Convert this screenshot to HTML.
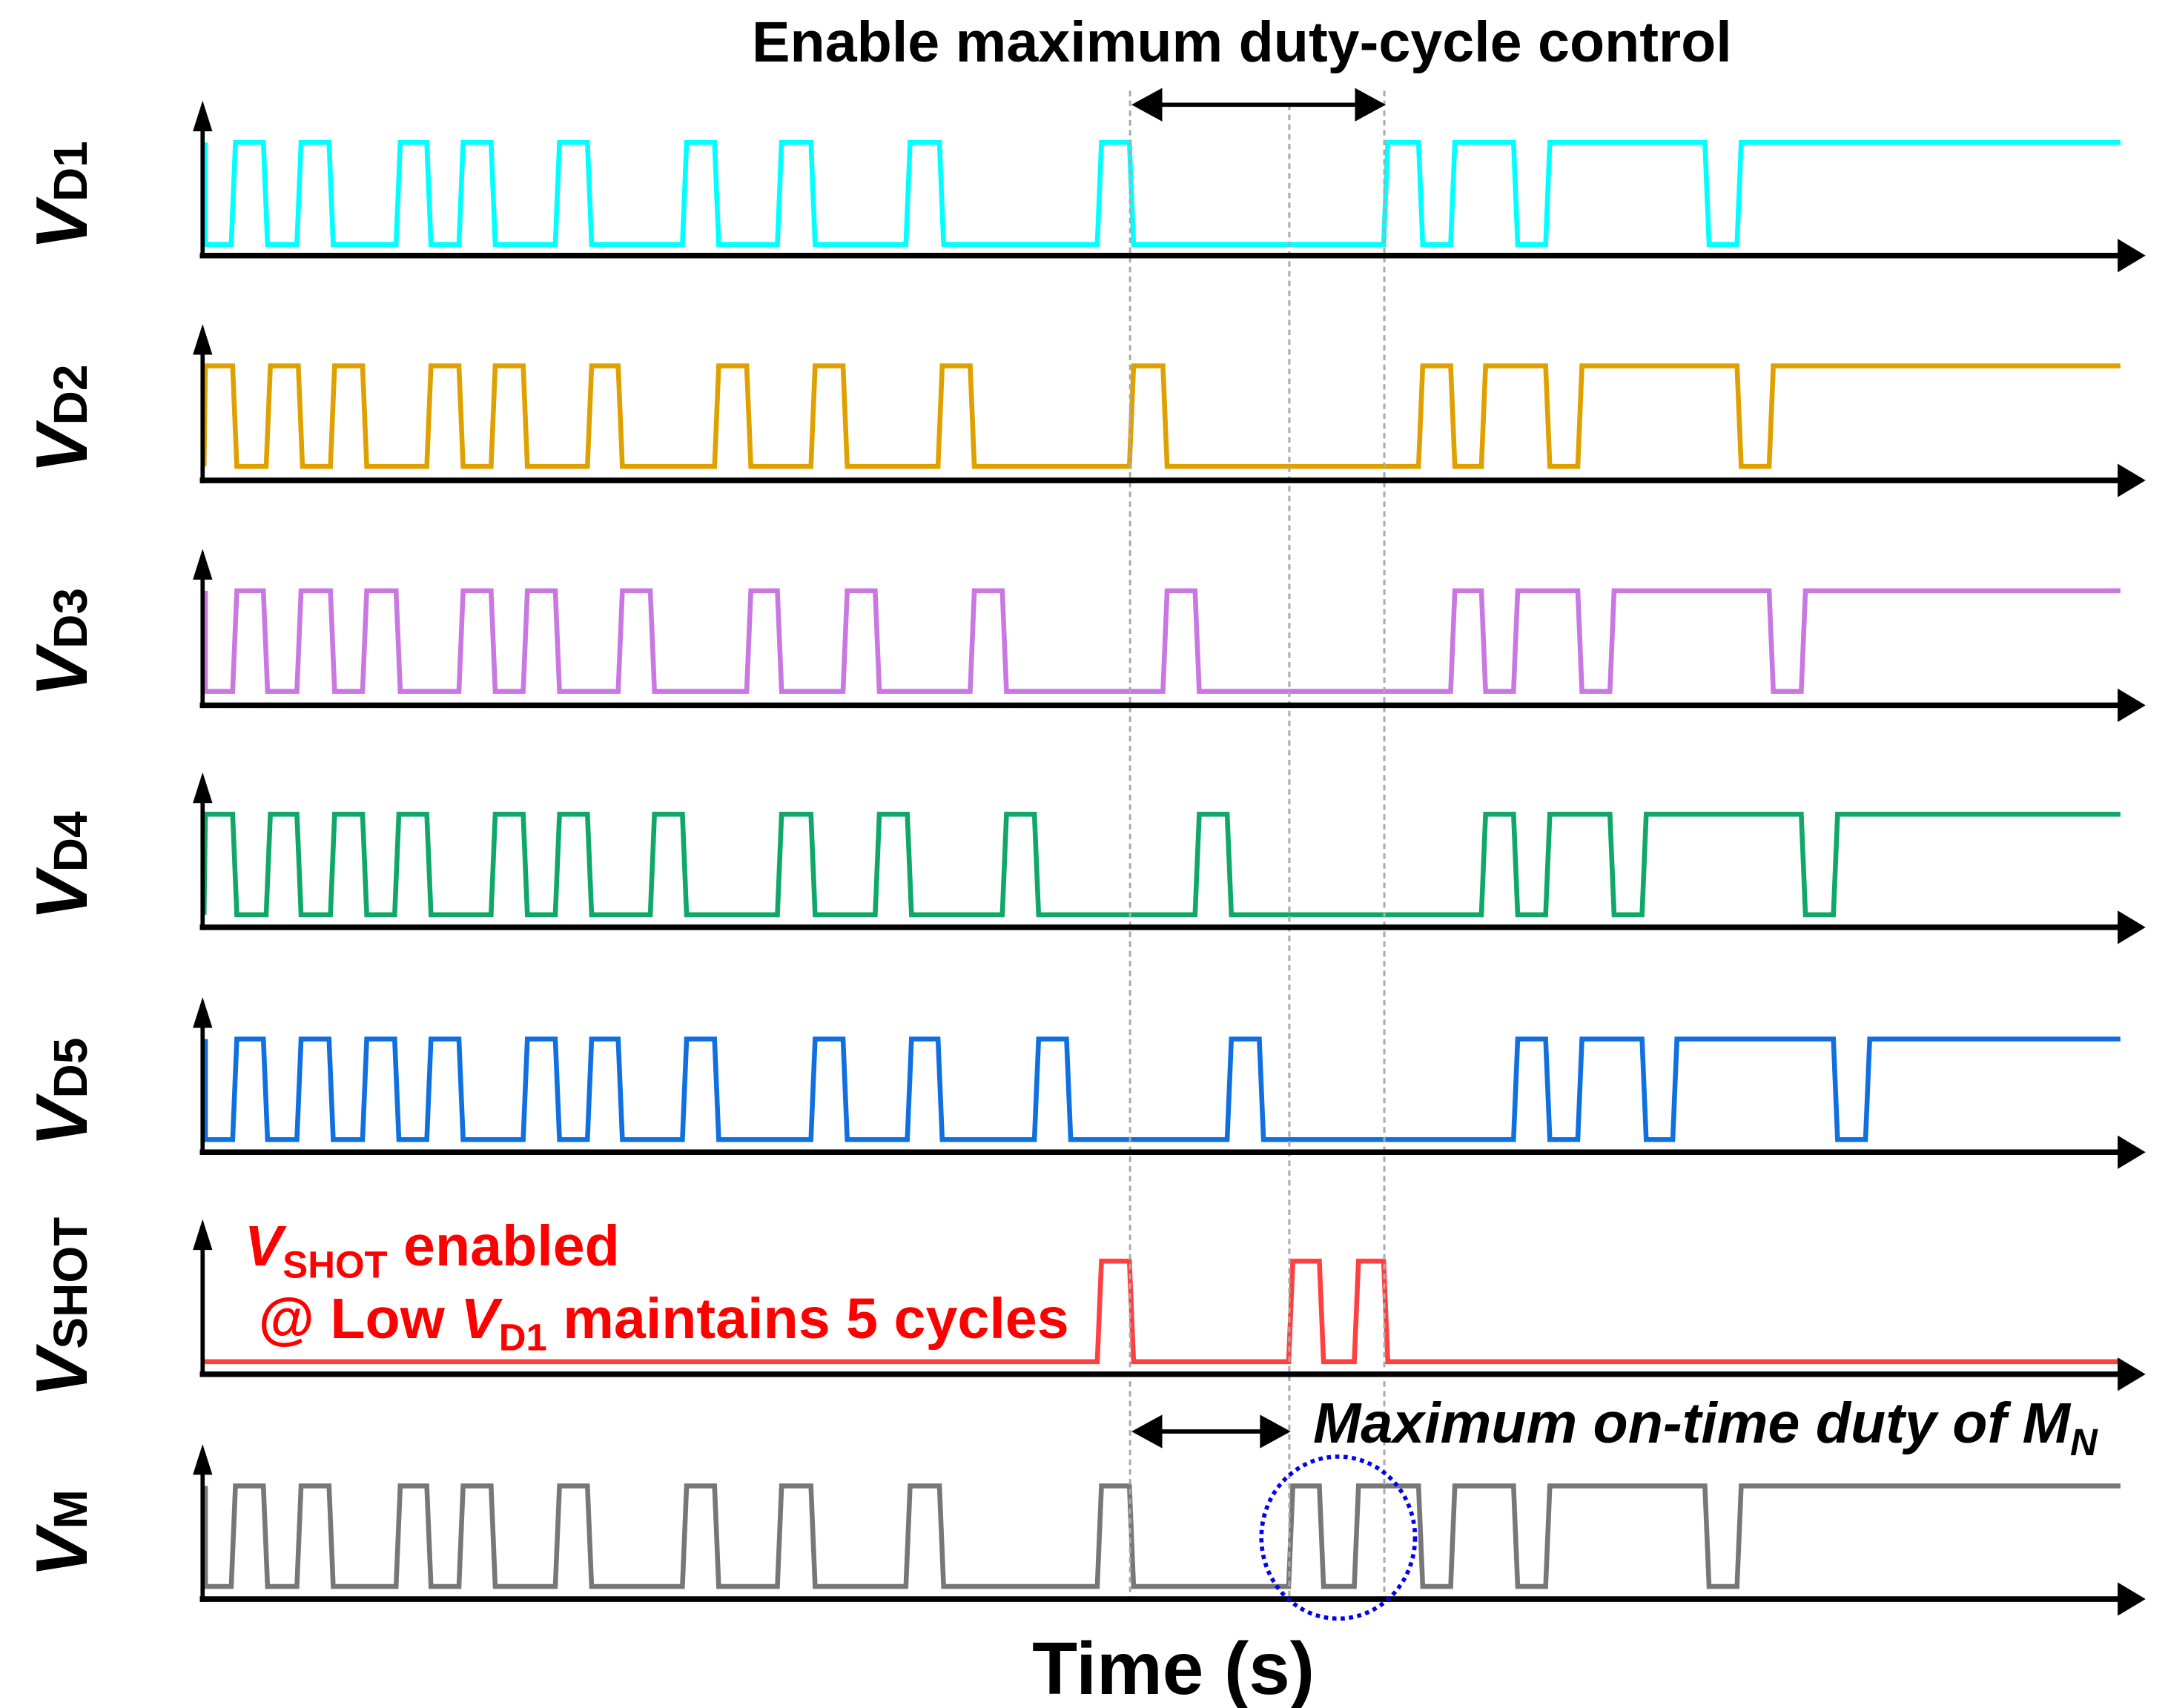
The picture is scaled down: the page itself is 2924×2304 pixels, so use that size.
<!DOCTYPE html>
<html><head><meta charset="utf-8"><style>
html,body{margin:0;padding:0;background:#fff;}
svg{display:block;}
text{font-family:"Liberation Sans",sans-serif;font-weight:bold;}
</style></head><body>
<svg id="s" width="2924" height="2304" viewBox="0 0 1552 1223" xmlns="http://www.w3.org/2000/svg">
<g id="wav"></g>
<g stroke="#aaa" stroke-width="1.6" stroke-dasharray="4,3">
<line x1="809" y1="65" x2="809" y2="1145"/>
<line x1="923" y1="75" x2="923" y2="1145"/>
<line x1="991" y1="65" x2="991" y2="1145"/>
</g>
<g id="axes"></g>
<line x1="822" y1="75" x2="980" y2="75" stroke="#000" stroke-width="3"/>
<path d="M810,75 L832,63 L832,87 Z" fill="#000"/>
<path d="M992,75 L970,63 L970,87 Z" fill="#000"/>
<line x1="822" y1="1025" x2="912" y2="1025" stroke="#000" stroke-width="3"/>
<path d="M810,1025 L832,1013 L832,1037 Z" fill="#000"/>
<path d="M924,1025 L902,1013 L902,1037 Z" fill="#000"/>
<text x="889" y="44" font-size="41" text-anchor="middle">Enable maximum duty-cycle control</text>
<g font-size="52">
<text transform="translate(62,140) rotate(-90)" text-anchor="middle"><tspan font-style="italic">V</tspan><tspan font-size="34">D1</tspan></text>
<text transform="translate(62,300) rotate(-90)" text-anchor="middle"><tspan font-style="italic">V</tspan><tspan font-size="34">D2</tspan></text>
<text transform="translate(62,460) rotate(-90)" text-anchor="middle"><tspan font-style="italic">V</tspan><tspan font-size="34">D3</tspan></text>
<text transform="translate(62,620) rotate(-90)" text-anchor="middle"><tspan font-style="italic">V</tspan><tspan font-size="34">D4</tspan></text>
<text transform="translate(62,782) rotate(-90)" text-anchor="middle"><tspan font-style="italic">V</tspan><tspan font-size="34">D5</tspan></text>
<text transform="translate(62,936) rotate(-90)" text-anchor="middle"><tspan font-style="italic">V</tspan><tspan font-size="34">SHOT</tspan></text>
<text transform="translate(62,1098) rotate(-90)" text-anchor="middle"><tspan font-style="italic">V</tspan><tspan font-size="34">M</tspan></text>
</g>
<g fill="#ff0000" font-size="41">
<text x="175" y="906"><tspan font-style="italic">V</tspan><tspan font-size="27" dy="9">SHOT</tspan><tspan dy="-9"> enabled</tspan></text>
<text x="185" y="958">@ Low <tspan font-style="italic">V</tspan><tspan font-size="27" dy="9">D1</tspan><tspan dy="-9"> maintains 5 cycles</tspan></text>
</g>
<text x="940" y="1033" font-size="41" font-style="italic">Maximum on-time duty of M<tspan font-size="27" dy="9">N</tspan></text>
<text x="840" y="1213" font-size="53" text-anchor="middle">Time (s)</text>
<ellipse cx="958" cy="1101" rx="55" ry="58" fill="none" stroke="#0000ee" stroke-width="3" stroke-dasharray="3,3"/>
</svg>
<script>
var rows=[
{c:"#00ffff",yh:102,yl:175,ax:183,s:"hl",h:[[167,190],[214,237],[285,307],[330,353],[399,422],[490,513],[558,582],[650,674],[787,810],[992,1017],[1040,1085],[1108,1222],[1245,1518]]},
{c:"#e0a000",yh:262,yl:334,ax:344,s:"lh",h:[[147,168],[192,215],[238,261],[307,330],[353,376],[422,444],[513,536],[582,605],[673,696],[810,834],[1017,1040],[1062,1108],[1131,1245],[1268,1518]]},
{c:"#c878e0",yh:423,yl:495,ax:505,s:"hl",h:[[168,190],[214,238],[261,285],[330,353],[376,399],[444,467],[536,558],[605,628],[696,719],[834,857],[1040,1062],[1085,1131],[1154,1268],[1291,1518]]},
{c:"#10a868",yh:583,yl:655,ax:664,s:"lh",h:[[147,168],[192,214],[238,261],[284,307],[353,376],[399,422],[467,490],[558,582],[628,651],[719,742],[857,880],[1062,1085],[1108,1154],[1177,1291],[1314,1518]]},
{c:"#1070e0",yh:744,yl:816,ax:825,s:"hl",h:[[168,190],[214,237],[261,284],[307,330],[376,399],[422,444],[490,513],[582,605],[651,673],[742,765],[880,903],[1085,1108],[1131,1177],[1199,1314],[1337,1518]]},
{c:"#ff4040",yh:903,yl:975,ax:984,s:"l",h:[[787,810],[924,946],[971,992]]},
{c:"#777777",yh:1064,yl:1136,ax:1145,s:"hl",h:[[167,190],[214,237],[285,307],[330,353],[399,422],[490,513],[558,582],[650,674],[787,810],[924,946],[971,1017],[1040,1085],[1108,1222],[1245,1518]]}
];
var ns="http://www.w3.org/2000/svg",W=document.getElementById("wav"),A=document.getElementById("axes");
function el(t,a,p){var e=document.createElementNS(ns,t);for(var k in a)e.setAttribute(k,a[k]);p.appendChild(e);return e;}
rows.forEach(function(r){
 var d,yh=r.yh,yl=r.yl;
 if(r.s=="hl")d="M147,"+yh+" L147,"+yl;
 else d="M146,"+yl;
 r.h.forEach(function(iv){
  var a=iv[0],b=iv[1];
  if(a<=148){d+=" L147,"+yh;}
  else{d+=" L"+(a-1.5)+","+yl+" L"+(a+1.5)+","+yh;}
  if(b>=1518){d+=" L1518,"+yh;}
  else{d+=" L"+(b-1.5)+","+yh+" L"+(b+1.5)+","+yl;}
 });
 var last=r.h[r.h.length-1][1];
 if(last<1518)d+=" L1518,"+yl;
 el("path",{d:d,fill:"none",stroke:r.c,"stroke-width":3.5,"stroke-linejoin":"miter"},W);
 el("line",{x1:145,y1:r.ax+2,x2:145,y2:r.yh-20,stroke:"#000","stroke-width":3},A);
 el("path",{d:"M145,"+(r.yh-30)+" L138,"+(r.yh-8)+" L152,"+(r.yh-8)+" Z",fill:"#000"},A);
 el("line",{x1:143,y1:r.ax,x2:1520,y2:r.ax,stroke:"#000","stroke-width":4},A);
 el("path",{d:"M1536,"+r.ax+" L1516,"+(r.ax-12)+" L1516,"+(r.ax+12)+" Z",fill:"#000"},A);
});
</script>
</body></html>
